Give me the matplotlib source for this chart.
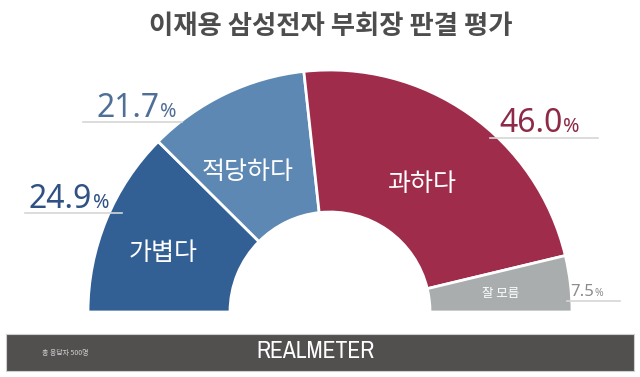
import matplotlib.pyplot as plt
from matplotlib import font_manager
from matplotlib.patches import Wedge, Rectangle

plt.rcParams['font.family'] = ['Noto Sans CJK KR', 'DejaVu Sans']

# 데이터
labels = ["가볍다", "적당하다", "과하다", "잘 모름"]
values = [24.9, 21.7, 46.0, 7.5]
colors = ["#325f94", "#5c88b3", "#a02c4c", "#a9adad"]
num_colors = ["#2f5183", "#4f6f98", "#8d2a48", "#8a8c8c"]

title = "이재용 삼성전자 부회장 판결 평가"
note = "총 응답자 500명"
brand = "REALMETER"

# 좁은 글꼴 찾기 (없으면 기본)
narrow = None
for f in font_manager.fontManager.ttflist:
    if "Narrow" in f.name or "Condensed" in f.name:
        narrow = f.name
        break
if narrow is None:
    for f in font_manager.fontManager.ttflist:
        if f.stretch in ("condensed", "semi-condensed", 75, 87.5) or "Condensed" in f.fname:
            narrow = f.name
            break

W, H = 640, 377
fig = plt.figure(figsize=(6.4, 3.77), dpi=100)
ax = fig.add_axes([0, 0, 1, 1])
ax.set_xlim(0, W)
ax.set_ylim(0, H)
ax.axis("off")

def Y(py):
    return H - py

cx, cy = 330, Y(312)
r_out, r_in = 242, 100

# 반원 조각 (왼쪽에서 시계 방향)
start = 180.0
for v, c in zip(values, colors):
    sweep = v / sum(values) * 180
    ax.add_patch(Wedge((cx, cy), r_out, start - sweep, start, width=r_out - r_in,
                       facecolor=c, edgecolor="white", linewidth=2))
    start -= sweep

# 조각 안 라벨
inner_pos = [(163, 253), (248, 172), (422, 184), (501, 293)]
inner_size = [18, 18, 18, 9]
for lab, (x, y), s in zip(labels, inner_pos, inner_size):
    ax.text(x, Y(y), lab, color="white", fontsize=s, ha="center", va="center")

# 퍼센트 값과 밑줄
num_pos = [(29, 208), (97, 117), (499, 132), (570, 296)]
num_size = [23, 23, 23, 12]
lines = [(25, 122, 213), (83, 182, 122), (490, 598, 138), (567, 620, 301)]
for v, (x, y), s, c, (x0, x1, ly) in zip(values, num_pos, num_size, num_colors, lines):
    t = ax.text(x, Y(y), f"{v:.1f}", color=c, fontsize=s, ha="left", va="baseline",
                family="Noto Sans", fontweight="light")
    fig.canvas.draw()
    bb = t.get_window_extent().transformed(ax.transData.inverted())
    ax.text(bb.x1 + 0.3, Y(y), "%", color=c, fontsize=s * 0.62, ha="left",
            va="baseline", family="Noto Sans")
    ax.plot([x0, x1], [Y(ly), Y(ly)], color="#d6d6d6", linewidth=1.2)

# 제목
ax.text(331, Y(26), title, fontsize=19, fontweight="heavy", color="#4d4d4d",
        ha="center", va="center")

# 하단 바
ax.add_patch(Rectangle((6, Y(371)), 628, 37, facecolor="#524f4f",
                       edgecolor="#cfcfcf", linewidth=0.8))
if narrow:
    ax.text(315, Y(352), brand, fontsize=17, color="white", ha="center", va="center",
            family=narrow)
else:
    ax.text(315, Y(352), brand, fontsize=14, color="white", ha="center", va="center",
            family="DejaVu Sans", fontweight="light")
ax.text(42, Y(353), note, fontsize=5, color="#d0d0d0", ha="left", va="center")

fig.savefig("out.png", dpi=100)
